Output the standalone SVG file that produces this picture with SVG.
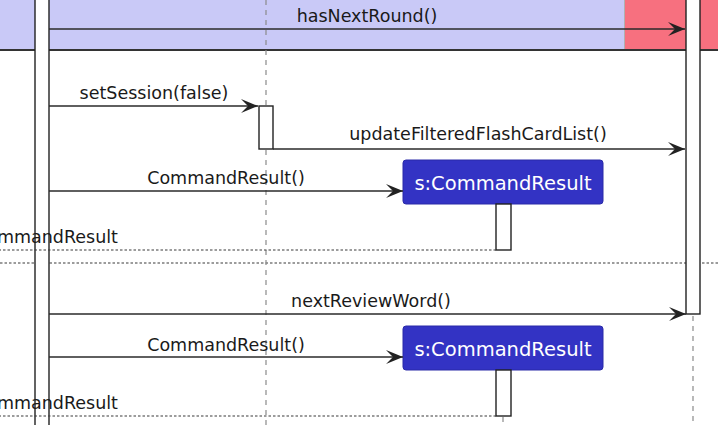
<svg xmlns="http://www.w3.org/2000/svg" width="718" height="425" viewBox="0 0 718 425">
<style>
  .lbl { font-family: "DejaVu Sans", "Liberation Sans", sans-serif; font-size: 17.5px; fill: #1a1a1a; }
  .msg { stroke: #2a2a2a; stroke-width: 1.5; fill: none; }
  .ret { stroke: #3a3a3a; stroke-width: 1.2; fill: none; stroke-dasharray: 2.5 2; }
  .life { stroke: #8a8a8a; stroke-width: 1.2; fill: none; stroke-dasharray: 5 5; }
  .act { fill: #ffffff; stroke: #222222; stroke-width: 1.4; }
  .obj { fill: #3333c4; stroke: #2a2aa8; stroke-width: 1; }
  .objt { font-family: "DejaVu Sans", "Liberation Sans", sans-serif; font-size: 19.5px; fill: #ffffff; text-anchor: middle; }
</style>
<defs>
  <marker id="ah" markerWidth="18" markerHeight="16" refX="17" refY="7.5" orient="auto" markerUnits="userSpaceOnUse">
    <polygon points="0,0.5 17,7.5 0,14.5 7,7.5" fill="#222222"/>
  </marker>
</defs>

<g id="groups">
  <rect x="0" y="-5" width="625" height="55" fill="#c9c9f7"/>
  <rect x="625" y="-5" width="100" height="55" fill="#f7707f"/>
  <line x1="624.5" y1="-5" x2="624.5" y2="50" stroke="#b0b0b0" stroke-width="1"/>
  <line x1="0" y1="50" x2="718" y2="50" stroke="#333333" stroke-width="2"/>
  <line x1="0" y1="263" x2="718" y2="263" class="ret"/>
</g>

<g id="lifelines">
  <line x1="266" y1="0" x2="266" y2="425" class="life"/>
  <line x1="693" y1="316" x2="693" y2="425" class="life"/>
  <line x1="503" y1="417" x2="503" y2="425" class="life"/>
</g>

<g id="left-activation">
  <rect x="35" y="-5" width="14" height="440" class="act"/>
</g>
<g id="right-activation">
  <rect x="686" y="-5" width="14" height="319" class="act"/>
</g>
<g id="mid-activation">
  <rect x="259" y="106" width="14" height="43" class="act"/>
</g>

<g id="commandresult-1">
  <rect x="403" y="160" width="200" height="44" rx="3" class="obj"/>
  <text x="503" y="189.5" class="objt">s:CommandResult</text>
  <rect x="496" y="204" width="15" height="46" class="act"/>
</g>
<g id="commandresult-2">
  <rect x="403" y="326" width="200" height="44" rx="3" class="obj"/>
  <text x="503" y="355.5" class="objt">s:CommandResult</text>
  <rect x="496" y="370" width="15" height="46" class="act"/>
</g>

<g id="connectors">
  <line x1="49" y1="29" x2="685" y2="29" class="msg" marker-end="url(#ah)"/>
  <text x="367" y="22" class="lbl" text-anchor="middle">hasNextRound()</text>

  <line x1="49" y1="106" x2="258" y2="106" class="msg" marker-end="url(#ah)"/>
  <text x="154" y="99" class="lbl" text-anchor="middle">setSession(false)</text>

  <line x1="273" y1="149" x2="685" y2="149" class="msg" marker-end="url(#ah)"/>
  <text x="478" y="140" class="lbl" text-anchor="middle">updateFilteredFlashCardList()</text>

  <line x1="49" y1="191" x2="403" y2="191" class="msg" marker-end="url(#ah)"/>
  <text x="226" y="184" class="lbl" text-anchor="middle">CommandResult()</text>

  <line x1="496" y1="250" x2="-10" y2="250" class="ret"/>
  <text x="118" y="243" class="lbl" text-anchor="end">CommandResult</text>

  <line x1="49" y1="314" x2="686" y2="314" class="msg" marker-end="url(#ah)"/>
  <text x="371" y="307" class="lbl" text-anchor="middle">nextReviewWord()</text>

  <line x1="49" y1="357" x2="403" y2="357" class="msg" marker-end="url(#ah)"/>
  <text x="226" y="351" class="lbl" text-anchor="middle">CommandResult()</text>

  <line x1="496" y1="416" x2="-10" y2="416" class="ret"/>
  <text x="118" y="409" class="lbl" text-anchor="end">CommandResult</text>
</g>
</svg>
